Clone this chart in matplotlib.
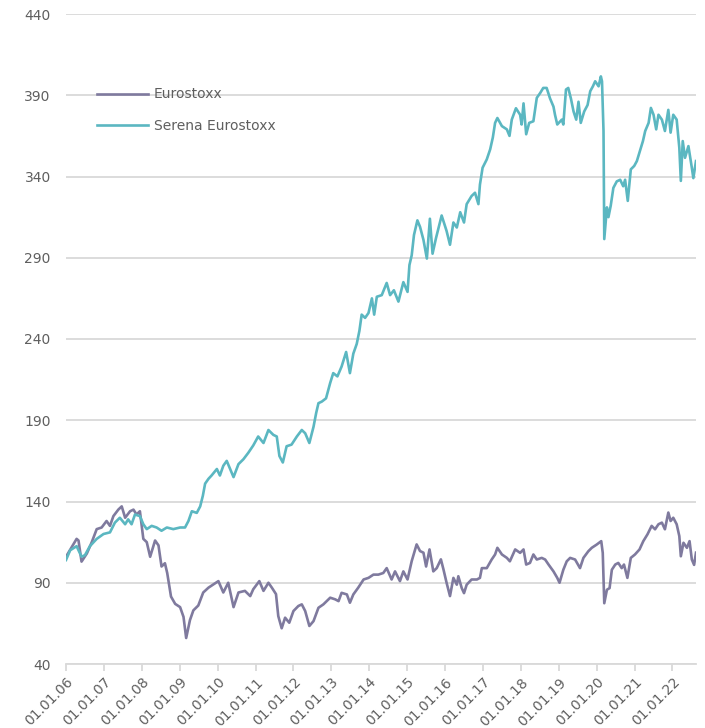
import matplotlib
matplotlib.use("Agg")
import matplotlib.pyplot as plt

# Eurostoxx (decimal year, index value)
euro_t = [2006.00, 2006.28, 2006.33, 2006.41, 2006.55, 2006.68, 2006.81, 2006.94,
          2007.07, 2007.16, 2007.25, 2007.38, 2007.47, 2007.56, 2007.69, 2007.78,
          2007.86, 2007.95, 2008.04, 2008.13, 2008.22, 2008.35, 2008.44, 2008.52,
          2008.61, 2008.67, 2008.77, 2008.88, 2009.01, 2009.10, 2009.17, 2009.27,
          2009.36, 2009.49, 2009.62, 2009.76, 2009.89, 2010.02, 2010.15, 2010.28,
          2010.42, 2010.55, 2010.72, 2010.86, 2010.94, 2011.10, 2011.21, 2011.34,
          2011.43, 2011.54, 2011.60, 2011.69, 2011.78, 2011.89, 2012.00, 2012.13,
          2012.22, 2012.31, 2012.42, 2012.53, 2012.66, 2012.79, 2012.97, 2013.10,
          2013.19, 2013.27, 2013.41, 2013.49, 2013.58, 2013.71, 2013.85, 2013.98,
          2014.11, 2014.24, 2014.37, 2014.46, 2014.59, 2014.68, 2014.81, 2014.90,
          2015.01, 2015.12, 2015.25, 2015.34, 2015.43, 2015.50, 2015.59, 2015.69,
          2015.78, 2015.89, 2015.96, 2016.04, 2016.13, 2016.22, 2016.31, 2016.35,
          2016.44, 2016.50, 2016.57, 2016.70, 2016.84, 2016.92, 2016.97, 2017.10,
          2017.23, 2017.32, 2017.38, 2017.50, 2017.63, 2017.71, 2017.85, 2017.98,
          2018.07, 2018.14, 2018.24, 2018.33, 2018.42, 2018.55, 2018.64, 2018.73,
          2018.86, 2018.96, 2019.02, 2019.12, 2019.21, 2019.30, 2019.43, 2019.56,
          2019.65, 2019.78, 2019.87, 2020.00, 2020.12, 2020.16, 2020.20, 2020.27,
          2020.34, 2020.40, 2020.49, 2020.57, 2020.66, 2020.72, 2020.81, 2020.90,
          2021.01, 2021.13, 2021.23, 2021.34, 2021.45, 2021.54, 2021.63, 2021.72,
          2021.80, 2021.89, 2021.95, 2022.02, 2022.11, 2022.18, 2022.22, 2022.29,
          2022.38, 2022.45, 2022.51, 2022.57, 2022.62]
euro_v = [106, 117, 116, 103, 108, 115, 123, 124,
          128, 125, 131, 135, 137, 130, 134, 135,
          132, 134, 117, 115, 106, 116, 113, 100,
          102, 96, 81.5, 77, 75, 69, 56, 67,
          73, 76, 84, 87, 89, 91, 84, 90,
          75, 84, 85, 81.8, 86, 91, 85, 90,
          87, 83, 69.5, 62, 68.5, 65.4, 72.6, 75.7,
          76.7, 72.6, 63.4, 66.4, 74.6, 76.7, 80.8, 79.8,
          78.7, 83.8, 82.8, 77.7, 82.8, 87, 92, 93,
          95, 95, 96, 99, 92, 97, 91, 97,
          92, 103.3, 113.6, 109.5, 108.5, 100, 110.5, 97,
          99, 104.4, 98, 90, 81.8, 93, 88.8, 94,
          86.7, 83.6, 88.8, 92, 92, 93, 99, 99,
          104.3, 107.4, 111.5, 107.4, 105.3, 103.2, 110.5, 108.4,
          110.5, 101.2, 102.2, 107.4, 104.3, 105.3, 104.3, 101.2,
          97, 93, 90, 98, 103.2, 105.3, 104.3, 99,
          105.3, 109.4, 111.5, 113.5, 115.6, 108.4, 77.4, 85.7,
          86.7, 98, 101.2, 102.2, 99, 101.2, 93, 105.3,
          107.4, 110.5, 115.6, 119.8, 125, 122.9, 126, 127,
          122.9, 133.2, 128, 130, 126, 118.7, 106.3, 114.6,
          111.5, 115.6, 104.3, 101, 108.5]

# Serena Eurostoxx
serena_t = [2006.00, 2006.11, 2006.28, 2006.41, 2006.50, 2006.63, 2006.81, 2006.99,
            2007.16, 2007.29, 2007.42, 2007.56, 2007.64, 2007.73, 2007.82, 2007.95,
            2008.04, 2008.13, 2008.26, 2008.39, 2008.52, 2008.66, 2008.83, 2009.01,
            2009.14, 2009.23, 2009.32, 2009.45, 2009.54, 2009.61, 2009.67, 2009.76,
            2009.84, 2009.98, 2010.06, 2010.15, 2010.24, 2010.33, 2010.42, 2010.55,
            2010.68, 2010.81, 2010.94, 2011.07, 2011.21, 2011.34, 2011.47, 2011.56,
            2011.63, 2011.72, 2011.82, 2011.95, 2012.09, 2012.22, 2012.31, 2012.42,
            2012.53, 2012.60, 2012.66, 2012.75, 2012.86, 2012.97, 2013.05, 2013.16,
            2013.27, 2013.39, 2013.49, 2013.58, 2013.67, 2013.74, 2013.80, 2013.89,
            2013.98, 2014.07, 2014.13, 2014.20, 2014.33, 2014.46, 2014.55, 2014.65,
            2014.77, 2014.90, 2015.01, 2015.06, 2015.12, 2015.18, 2015.27, 2015.34,
            2015.43, 2015.52, 2015.60, 2015.67, 2015.76, 2015.91, 2016.04, 2016.13,
            2016.22, 2016.31, 2016.40, 2016.50, 2016.57, 2016.70, 2016.79, 2016.88,
            2016.92, 2016.99, 2017.10, 2017.19, 2017.26, 2017.32, 2017.38, 2017.50,
            2017.63, 2017.70, 2017.76, 2017.87, 2017.98, 2018.02, 2018.07, 2018.14,
            2018.22, 2018.33, 2018.42, 2018.51, 2018.59, 2018.68, 2018.77, 2018.86,
            2018.90, 2018.96, 2019.08, 2019.12, 2019.19, 2019.25, 2019.32, 2019.39,
            2019.46, 2019.52, 2019.58, 2019.67, 2019.76, 2019.83, 2019.90, 2019.96,
            2020.05, 2020.11, 2020.14, 2020.18, 2020.20, 2020.27, 2020.31, 2020.37,
            2020.44, 2020.53, 2020.62, 2020.70, 2020.75, 2020.82, 2020.90, 2020.99,
            2021.06, 2021.14, 2021.22, 2021.28, 2021.37, 2021.43, 2021.50, 2021.57,
            2021.63, 2021.72, 2021.80, 2021.89, 2021.95, 2022.02, 2022.11, 2022.18,
            2022.22, 2022.27, 2022.33, 2022.42, 2022.51, 2022.55, 2022.62]
serena_v = [104, 110, 112.5, 106, 107, 112.5, 117, 120,
            121, 127, 130, 126, 129, 126, 132, 131,
            126, 123, 125, 124, 122, 124, 123, 124,
            124, 128, 134, 133, 137, 143.5, 151, 154,
            156, 160, 156, 162, 165, 160, 155, 163,
            166, 170, 174.5, 180, 176, 184, 181, 180,
            168, 164, 174, 175, 180, 184, 182, 176,
            186, 194.5, 200.5, 201.5, 203.5, 213, 219, 217,
            223, 232, 219, 231, 237, 245, 255, 253,
            256, 265, 255, 266, 267, 274.5, 267, 270,
            263, 275, 269, 285.5, 291.5, 304, 313, 309,
            301, 289.5, 314, 292.5, 302, 316, 306.5, 298,
            311.7, 308.6, 318, 311.7, 323, 328, 330, 323,
            335, 345.4, 350.5, 356.7, 364, 373, 376, 371,
            369, 365, 375, 382, 378, 372, 385, 366,
            373, 374, 388.4, 391.4, 394.5, 394.5, 388, 383,
            378, 372, 375, 372, 393.5, 394.5, 388, 380,
            375, 386, 373, 380, 384, 392.5, 395.5, 398.6,
            395.5, 401.6, 398.6, 368, 301.5, 321, 315, 322,
            333, 337, 338, 334, 338, 325, 344.4, 346.5,
            349.5, 355.6, 361.8, 368, 373, 382.2, 378, 369,
            378, 375, 368, 381, 367, 378, 375, 357.7,
            337.3, 361.8, 351.5, 358.7, 345.4, 339, 349.5]

years = list(range(2006, 2023))
year_labels = ["01.01.%02d" % (y % 100) for y in years]
y_ticks = list(range(40, 441, 50))

grid_col = "#d9d9d9"
text_col = "#5f5f5f"

fig = plt.figure(figsize=(7.05, 7.28), dpi=100)
ax = fig.add_axes([66 / 705, 64 / 728, 630 / 705, 650 / 728])

ax.plot(euro_t, euro_v, color="#7f7a9e", lw=1.9, label="Eurostoxx")
ax.plot(serena_t, serena_v, color="#5bb7c1", lw=1.9, label="Serena Eurostoxx")

ax.set_xlim(2006.0, 2022.62)
ax.set_ylim(40, 440)
ax.set_yticks(y_ticks)
ax.set_xticks(years)
ax.set_xticklabels(year_labels, rotation=45, ha="right", rotation_mode="anchor")

ax.yaxis.grid(True, color=grid_col, lw=1.3)
ax.set_axisbelow(True)
for side in ["top", "right", "left"]:
    ax.spines[side].set_visible(False)
ax.spines["bottom"].set_color(grid_col)
ax.spines["bottom"].set_linewidth(1.3)

ax.tick_params(axis="y", length=0, pad=11, labelsize=10, labelcolor=text_col)
ax.tick_params(axis="x", length=5, width=1.3, color=grid_col, pad=3,
               labelsize=10, labelcolor=text_col)

leg = ax.legend(loc="upper left", bbox_to_anchor=(0.049, 0.887), frameon=False,
                fontsize=10, handlelength=3.7, handletextpad=0.4,
                labelspacing=1.25, borderpad=0, borderaxespad=0)
for t in leg.get_texts():
    t.set_color(text_col)

fig.savefig("out.png", dpi=100)
